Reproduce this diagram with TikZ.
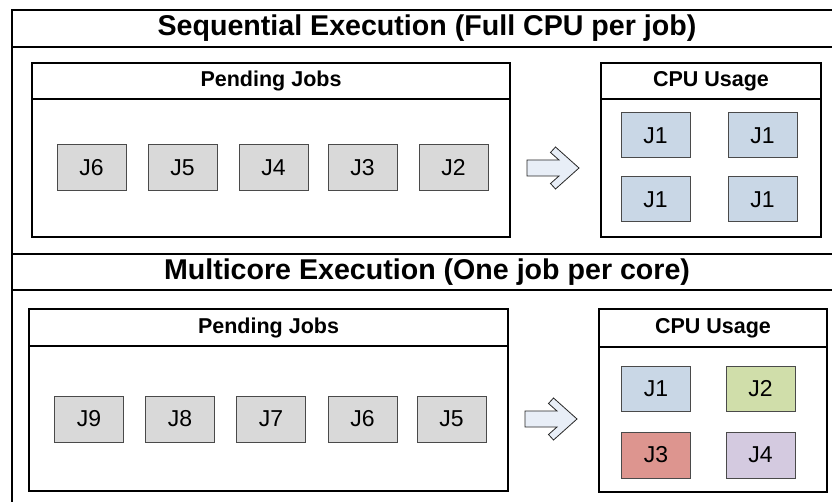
\documentclass[tikz,border=0pt]{standalone}
\usepackage{fontspec}
\setmainfont{Liberation Sans}
\definecolor{jobgray}{HTML}{D9D9D9}
\definecolor{jobblue}{HTML}{C9D7E6}
\definecolor{jobgreen}{HTML}{D0DEAA}
\definecolor{jobred}{HTML}{DD958F}
\definecolor{jobpurple}{HTML}{D4CAE0}
\definecolor{jobedge}{HTML}{4A4A4A}
\definecolor{arrowfill}{HTML}{E8EEF7}
\tikzset{
  frame/.style={draw=black, line width=2pt, fill=white, outer sep=0pt, inner sep=0pt},
  sectitle/.style={frame, font=\fontsize{28.6}{32}\selectfont\bfseries},
  panelhead/.style={frame, font=\fontsize{21.5}{25}\selectfont\bfseries},
  jobbox/.style={draw=jobedge, line width=1pt, minimum width=69pt, minimum height=46pt,
    inner sep=0pt, outer sep=0pt, font=\fontsize{23}{27}\selectfont},
  pending/.style={jobbox, fill=jobgray},
  flowarrow/.style={draw=black!85, line width=0.8pt, fill=arrowfill, line join=miter},
}
\begin{document}
\begin{tikzpicture}[x=1pt, y=-1pt]
\clip (0,0) rectangle (832,502);
\fill[white] (0,0) rectangle (832,502);

% ---- outer frame: two stacked sections ----
\node[sectitle, minimum width=830pt, minimum height=36.5pt] (seqhead) at (427,28.6)
  {Sequential Execution (Full CPU per job)};
\node[frame, minimum width=830pt, minimum height=207.5pt, anchor=north] (seqbody) at (seqhead.south) {};
\node[sectitle, minimum width=830pt, minimum height=36pt, anchor=north] (mchead) at (seqbody.south)
  {Multicore Execution (One job per core)};
\node[frame, minimum width=830pt, minimum height=230pt, anchor=north] (mcbody) at (mchead.south) {};

% ---- sequential: pending jobs panel ----
\node[panelhead, minimum width=478pt, minimum height=36pt] (pendAh) at (271,81) {Pending Jobs};
\node[frame, minimum width=478pt, minimum height=138pt, anchor=north] (pendA) at (pendAh.south) {};
\node[pending] (a6) at (91.5,168) {J6};
\node[pending] (a5) at (182.5,168) {J5};
\node[pending] (a4) at (273.5,168) {J4};
\node[pending] (a3) at (362.5,168) {J3};
\node[pending] (a2) at (453.5,168) {J2};

% ---- sequential: CPU usage panel ----
\node[panelhead, minimum width=220pt, minimum height=36pt] (cpuAh) at (711,81) {CPU Usage};
\node[frame, minimum width=220pt, minimum height=138pt, anchor=north] (cpuA) at (cpuAh.south) {};
\node[jobbox, fill=jobblue, minimum height=45pt] (c11) at (655.5,135.5) {J1};
\node[jobbox, fill=jobblue, minimum height=45pt] (c12) at (762.5,135.5) {J1};
\node[jobbox, fill=jobblue, minimum height=45pt] (c13) at (655.5,199.5) {J1};
\node[jobbox, fill=jobblue, minimum height=45pt] (c14) at (762.5,199.5) {J1};

% ---- multicore: pending jobs panel ----
\node[panelhead, minimum width=479pt, minimum height=37pt] (pendBh) at (268.5,327.5) {Pending Jobs};
\node[frame, minimum width=479pt, minimum height=145pt, anchor=north] (pendB) at (pendBh.south) {};
\node[pending] (b9) at (89,419) {J9};
\node[pending] (b8) at (180,419) {J8};
\node[pending] (b7) at (271,419) {J7};
\node[pending] (b6) at (362.5,419) {J6};
\node[pending] (b5) at (451.5,419) {J5};

% ---- multicore: CPU usage panel ----
\node[panelhead, minimum width=228pt, minimum height=38pt] (cpuBh) at (713,328) {CPU Usage};
\node[frame, minimum width=228pt, minimum height=145pt, anchor=north] (cpuB) at (cpuBh.south) {};
\node[jobbox, fill=jobblue, minimum height=45pt] (d1) at (656,388.5) {J1};
\node[jobbox, fill=jobgreen, minimum height=45pt] (d2) at (760.5,388.5) {J2};
\node[jobbox, fill=jobred] (d3) at (656,455) {J3};
\node[jobbox, fill=jobpurple] (d4) at (760.5,455) {J4};

% ---- block arrows from queue to CPU ----
\coordinate (arrA) at (527,168);
\coordinate (arrB) at (525,419);
\foreach \c in {arrA, arrB}
  \draw[flowarrow, shift={(\c)}]
    (0,-8) -- (32,-8) -- (23.5,-15.5) -- (28.5,-21) -- (52,0) -- (28.5,21)
    -- (23.5,15.5) -- (32,8) -- (0,8) -- cycle;
\end{tikzpicture}
\end{document}
